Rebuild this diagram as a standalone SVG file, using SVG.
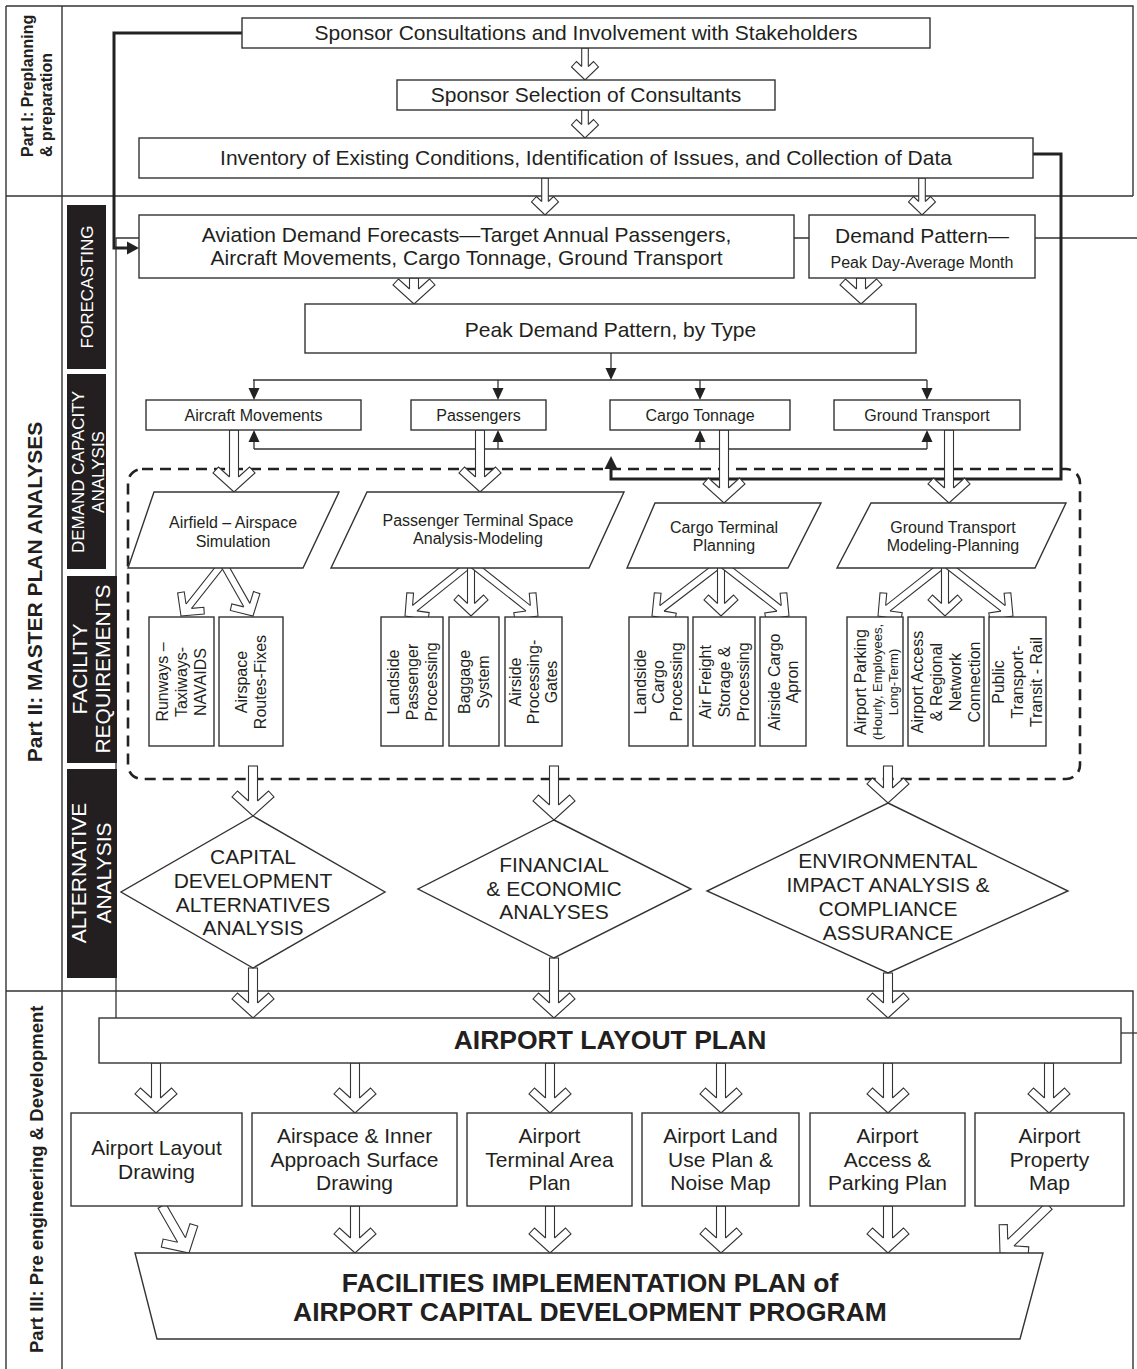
<svg xmlns="http://www.w3.org/2000/svg" width="1137" height="1369" viewBox="0 0 1137 1369">
<defs>
<style>
text{font-family:"Liberation Sans",Arial,Helvetica,sans-serif;fill:#231f20}
.f21{font-size:21px}
.f16{font-size:16px}
.f13{font-size:13px}
.fb{font-size:26.5px;font-weight:bold}
.c{text-anchor:middle}
.b{font-weight:bold}
.box{fill:#fff;stroke:#333;stroke-width:1.4}
.frame{fill:none;stroke:#333;stroke-width:1.4}
.bar{fill:#231f20}
.wt{fill:#fff}
.ln{fill:none;stroke:#333;stroke-width:1.3}
.tk{fill:none;stroke:#222;stroke-width:3}
.dash{fill:none;stroke:#222;stroke-width:2.6;stroke-dasharray:11 7}
.sh{fill:#fff;stroke:#333;stroke-width:1.1}
.hd{fill:#222}
</style>
<path id="hS" class="sh" d="M-3.3,-13.5 L-8.5,-18.5 L-13.5,-13 L0,0 L13.5,-13 L8.5,-18.5 L3.3,-13.5"/>
<path id="hM" class="sh" d="M-3.5,-12.5 L-12.5,-21 L-17,-16 L0,0 L17,-16 L12.5,-21 L3.5,-12.5"/>
<path id="hL" class="sh" d="M-4.5,-15 L-15.5,-25 L-21,-19 L0,0 L21,-19 L15.5,-25 L4.5,-15"/>
</defs>
<rect width="1137" height="1369" fill="#fff"/>

<g id="frame">
<path class="frame" d="M6,6 V1369 M62,6 V1369 M6,6 H1133 V196 M6,196 H1133 M6,991 H1133 V1369"/>
<rect class="dash" x="128" y="469" width="952" height="310" rx="14"/>
</g>

<g id="connectors">
<path class="ln" d="M1137,238 H116 V1018"/>
<path class="ln" d="M1121,1033 H1137"/>
<path class="tk" d="M242,33 H114 V248 H129"/>
<polygon class="hd" points="127,241.5 127,254.5 139,248"/>
<path class="tk" d="M1033,154 H1061 V479 H611 V468"/>
<polygon class="hd" points="604.5,469 617.5,469 611,456"/>
<path class="ln" d="M611,353 V370 M253,380 H927 M254,380 V389 M498,380 V389 M700,380 V389 M927,380 V389 M254,449 H927 M254,449 V441 M498,449 V441 M700,449 V441 M927,449 V441"/>
<polygon class="hd" points="605.5,368 616.5,368 611,380"/>
<polygon class="hd" points="248.5,388 259.5,388 254,400"/>
<polygon class="hd" points="492.5,388 503.5,388 498,400"/>
<polygon class="hd" points="694.5,388 705.5,388 700,400"/>
<polygon class="hd" points="921.5,388 932.5,388 927,400"/>
<polygon class="hd" points="248.5,442 259.5,442 254,430"/>
<polygon class="hd" points="492.5,442 503.5,442 498,430"/>
<polygon class="hd" points="694.5,442 705.5,442 700,430"/>
<polygon class="hd" points="921.5,442 932.5,442 927,430"/>

<g transform="translate(585,80)"><rect class="sh" x="-3.3" y="-32" width="6.6" height="20.5"/><use href="#hS"/></g>
<g transform="translate(585,138)"><rect class="sh" x="-3.3" y="-28" width="6.6" height="16.5"/><use href="#hS"/></g>
<g transform="translate(545,215)"><rect class="sh" x="-3.3" y="-37" width="6.6" height="25.5"/><use href="#hS"/></g>
<g transform="translate(922,215)"><rect class="sh" x="-3.3" y="-37" width="6.6" height="25.5"/><use href="#hS"/></g>
<g transform="translate(414,304)"><rect class="sh" x="-4.5" y="-26" width="9" height="13"/><use href="#hL"/></g>
<g transform="translate(861,304)"><rect class="sh" x="-4.5" y="-26" width="9" height="13"/><use href="#hL"/></g>
<g transform="translate(234,492)"><rect class="sh" x="-4.5" y="-62" width="9" height="49"/><use href="#hL"/></g>
<g transform="translate(480,492)"><rect class="sh" x="-4.5" y="-62" width="9" height="49"/><use href="#hL"/></g>
<g transform="translate(724,503)"><rect class="sh" x="-4.5" y="-73" width="9" height="60"/><use href="#hL"/></g>
<g transform="translate(949,503)"><rect class="sh" x="-4.5" y="-73" width="9" height="60"/><use href="#hL"/></g>

<g transform="translate(181,616) rotate(38.4)"><rect class="sh" x="-3.5" y="-67.6" width="7" height="57.1"/><use href="#hM"/></g>
<g transform="translate(253,616) rotate(-29.5)"><rect class="sh" x="-3.5" y="-60.9" width="7" height="50.4"/><use href="#hM"/></g>
<g transform="translate(405,616) rotate(51.2)"><rect class="sh" x="-3.5" y="-84.6" width="7" height="74.1"/><use href="#hM"/></g>
<g transform="translate(471,616)"><rect class="sh" x="-3.5" y="-53" width="7" height="42.5"/><use href="#hM"/></g>
<g transform="translate(538,616) rotate(-51.7)"><rect class="sh" x="-3.5" y="-85.4" width="7" height="74.9"/><use href="#hM"/></g>
<g transform="translate(652,616) rotate(52.5)"><rect class="sh" x="-3.5" y="-87" width="7" height="76.5"/><use href="#hM"/></g>
<g transform="translate(721,616)"><rect class="sh" x="-3.5" y="-53" width="7" height="42.5"/><use href="#hM"/></g>
<g transform="translate(789,616) rotate(-52.1)"><rect class="sh" x="-3.5" y="-86.2" width="7" height="75.7"/><use href="#hM"/></g>
<g transform="translate(878,616) rotate(51.7)"><rect class="sh" x="-3.5" y="-85.4" width="7" height="74.9"/><use href="#hM"/></g>
<g transform="translate(945,616)"><rect class="sh" x="-3.5" y="-53" width="7" height="42.5"/><use href="#hM"/></g>
<g transform="translate(1013,616) rotate(-52.1)"><rect class="sh" x="-3.5" y="-86.2" width="7" height="75.7"/><use href="#hM"/></g>

<g transform="translate(253,816)"><rect class="sh" x="-4.5" y="-50" width="9" height="37"/><use href="#hL"/></g>
<g transform="translate(554,820)"><rect class="sh" x="-4.5" y="-54" width="9" height="41"/><use href="#hL"/></g>
<g transform="translate(888,803)"><rect class="sh" x="-4.5" y="-37" width="9" height="24"/><use href="#hL"/></g>
<g transform="translate(253,1018)"><rect class="sh" x="-4.5" y="-50" width="9" height="37"/><use href="#hL"/></g>
<g transform="translate(554,1018)"><rect class="sh" x="-4.5" y="-60" width="9" height="47"/><use href="#hL"/></g>
<g transform="translate(888,1018)"><rect class="sh" x="-4.5" y="-45" width="9" height="32"/><use href="#hL"/></g>

<g transform="translate(156,1113)"><rect class="sh" x="-4.5" y="-50" width="9" height="37"/><use href="#hL"/></g>
<g transform="translate(355,1113)"><rect class="sh" x="-4.5" y="-50" width="9" height="37"/><use href="#hL"/></g>
<g transform="translate(550,1113)"><rect class="sh" x="-4.5" y="-50" width="9" height="37"/><use href="#hL"/></g>
<g transform="translate(721,1113)"><rect class="sh" x="-4.5" y="-50" width="9" height="37"/><use href="#hL"/></g>
<g transform="translate(888,1113)"><rect class="sh" x="-4.5" y="-50" width="9" height="37"/><use href="#hL"/></g>
<g transform="translate(1049,1113)"><rect class="sh" x="-4.5" y="-50" width="9" height="37"/><use href="#hL"/></g>

<g transform="translate(189,1253) rotate(-29.9)"><rect class="sh" x="-4.5" y="-54.2" width="9" height="41.2"/><use href="#hL"/></g>
<g transform="translate(355,1253)"><rect class="sh" x="-4.5" y="-47" width="9" height="34"/><use href="#hL"/></g>
<g transform="translate(550,1253)"><rect class="sh" x="-4.5" y="-47" width="9" height="34"/><use href="#hL"/></g>
<g transform="translate(721,1253)"><rect class="sh" x="-4.5" y="-47" width="9" height="34"/><use href="#hL"/></g>
<g transform="translate(888,1253)"><rect class="sh" x="-4.5" y="-47" width="9" height="34"/><use href="#hL"/></g>
<g transform="translate(1000,1253) rotate(46.2)"><rect class="sh" x="-4.5" y="-67.9" width="9" height="54.9"/><use href="#hL"/></g>
</g>

<g id="part-labels">
<text class="b" font-size="16" transform="translate(32.6,157) rotate(-90)"><tspan x="0" y="0">Part I: Preplanning</tspan><tspan x="0" y="19">&amp; preparation</tspan></text>
<text class="b c" font-size="21" transform="translate(42.4,592) rotate(-90)">Part II: MASTER PLAN ANALYSES</text>
<text class="b" font-size="18.5" transform="translate(42.5,1353) rotate(-90)">Part III: Pre engineering &amp; Development</text>
</g>

<g id="section-forecasting">
<rect class="bar" x="67" y="205" width="39" height="164"/>
<text class="wt c" font-size="17" transform="translate(92.5,287) rotate(-90)">FORECASTING</text>
</g>
<g id="section-demand-capacity">
<rect class="bar" x="67" y="374" width="39" height="195"/>
<text class="wt c" font-size="17" transform="translate(84,472) rotate(-90)"><tspan x="0" y="0">DEMAND CAPACITY</tspan><tspan x="0" y="19.5">ANALYSIS</tspan></text>
</g>
<g id="section-facility">
<rect class="bar" x="67" y="576" width="50" height="187"/>
<text class="wt c" font-size="21" transform="translate(87.4,669) rotate(-90)"><tspan x="0" y="0">FACILITY</tspan><tspan x="0" y="23">REQUIREMENTS</tspan></text>
</g>
<g id="section-alternative">
<rect class="bar" x="67" y="769" width="50" height="209"/>
<text class="wt c" font-size="21" transform="translate(86.4,873) rotate(-90)"><tspan x="0" y="0">ALTERNATIVE</tspan><tspan x="0" y="25">ANALYSIS</tspan></text>
</g>

<g id="n-sponsor-consult"><rect class="box" x="242" y="18" width="688" height="30"/><text class="f21 c" x="586" y="40.4">Sponsor Consultations and Involvement with Stakeholders</text></g>
<g id="n-sponsor-select"><rect class="box" x="397" y="80" width="378" height="30"/><text class="f21 c" x="586" y="102.4">Sponsor Selection of Consultants</text></g>
<g id="n-inventory"><rect class="box" x="139" y="138" width="894" height="40"/><text class="f21 c" x="586" y="165.4">Inventory of Existing Conditions, Identification of Issues, and Collection of Data</text></g>
<g id="n-forecasts"><rect class="box" x="139" y="215" width="655" height="63"/><text class="f21 c" x="466.5" y="242.4">Aviation Demand Forecasts—Target Annual Passengers,</text><text class="f21 c" x="466.5" y="265.4">Aircraft Movements, Cargo Tonnage, Ground Transport</text></g>
<g id="n-demand-pattern"><rect class="box" x="809" y="215" width="226" height="63"/><text class="f21 c" x="922" y="243.4">Demand Pattern—</text><text class="f16 c" x="922" y="267.6">Peak Day-Average Month</text></g>
<g id="n-peak"><rect class="box" x="305" y="304" width="611" height="49"/><text class="f21 c" x="610.5" y="337">Peak Demand Pattern, by Type</text></g>

<g id="n-aircraft"><rect class="box" x="146" y="400" width="215" height="30"/><text class="f16 c" x="253.5" y="420.6">Aircraft Movements</text></g>
<g id="n-passengers"><rect class="box" x="411" y="400" width="135" height="30"/><text class="f16 c" x="478.5" y="420.6">Passengers</text></g>
<g id="n-cargo"><rect class="box" x="610" y="400" width="180" height="30"/><text class="f16 c" x="700" y="420.6">Cargo Tonnage</text></g>
<g id="n-ground"><rect class="box" x="834" y="400" width="186" height="30"/><text class="f16 c" x="927" y="420.6">Ground Transport</text></g>

<g id="n-airfield-sim"><polygon class="box" points="154,492 339,492 303,568 128,568"/><text class="f16 c" x="233" y="527.6">Airfield – Airspace</text><text class="f16 c" x="233" y="546.6">Simulation</text></g>
<g id="n-pax-terminal"><polygon class="box" points="367,492 624,492 589,568 331,568"/><text class="f16 c" x="478" y="525.6">Passenger Terminal Space</text><text class="f16 c" x="478" y="543.6">Analysis-Modeling</text></g>
<g id="n-cargo-terminal"><polygon class="box" points="655,503 821,503 788,568 627,568"/><text class="f16 c" x="724" y="532.6">Cargo Terminal</text><text class="f16 c" x="724" y="550.6">Planning</text></g>
<g id="n-ground-model"><polygon class="box" points="871,503 1066,503 1035,568 837,568"/><text class="f16 c" x="953" y="532.6">Ground Transport</text><text class="f16 c" x="953" y="550.6">Modeling-Planning</text></g>

<g id="n-runways"><rect class="box" x="149" y="617" width="65" height="129"/><text class="f16 c" transform="translate(168.1,682) rotate(-90)"><tspan x="0" y="0">Runways –</tspan><tspan x="0" y="19">Taxiways-</tspan><tspan x="0" y="38">NAVAIDS</tspan></text></g>
<g id="n-airspace-routes"><rect class="box" x="219" y="617" width="64" height="129"/><text class="f16 c" transform="translate(247.1,682) rotate(-90)"><tspan x="0" y="0">Airspace</tspan><tspan x="0" y="19">Routes-Fixes</tspan></text></g>
<g id="n-landside-pax"><rect class="box" x="381" y="617" width="62" height="129"/><text class="f16 c" transform="translate(398.6,682) rotate(-90)"><tspan x="0" y="0">Landside</tspan><tspan x="0" y="19">Passenger</tspan><tspan x="0" y="38">Processing</tspan></text></g>
<g id="n-baggage"><rect class="box" x="449" y="617" width="50" height="129"/><text class="f16 c" transform="translate(470.1,682) rotate(-90)"><tspan x="0" y="0">Baggage</tspan><tspan x="0" y="19">System</tspan></text></g>
<g id="n-airside-gates"><rect class="box" x="505" y="617" width="57" height="129"/><text class="f16 c" transform="translate(521.1,682) rotate(-90)"><tspan x="0" y="0">Airside</tspan><tspan x="0" y="18">Processing-</tspan><tspan x="0" y="36">Gates</tspan></text></g>
<g id="n-landside-cargo"><rect class="box" x="629" y="617" width="59" height="129"/><text class="f16 c" transform="translate(646.1,682) rotate(-90)"><tspan x="0" y="0">Landside</tspan><tspan x="0" y="18">Cargo</tspan><tspan x="0" y="36">Processing</tspan></text></g>
<g id="n-air-freight"><rect class="box" x="693" y="617" width="62" height="129"/><text class="f16 c" transform="translate(710.6,682) rotate(-90)"><tspan x="0" y="0">Air Freight</tspan><tspan x="0" y="19">Storage &amp;</tspan><tspan x="0" y="38">Processing</tspan></text></g>
<g id="n-airside-cargo"><rect class="box" x="760" y="617" width="46" height="129"/><text class="f16 c" transform="translate(779.6,682) rotate(-90)"><tspan x="0" y="0">Airside Cargo</tspan><tspan x="0" y="18">Apron</tspan></text></g>
<g id="n-parking"><rect class="box" x="847" y="617" width="56" height="129"/><text class="c" transform="translate(865.6,682) rotate(-90)"><tspan class="f16" x="0" y="0">Airport Parking</tspan><tspan class="f13" x="0" y="16">(Hourly, Employees,</tspan><tspan class="f13" x="0" y="32">Long-Term)</tspan></text></g>
<g id="n-access"><rect class="box" x="908" y="617" width="76" height="129"/><text class="f16 c" transform="translate(923.1,682) rotate(-90)"><tspan x="0" y="0">Airport Access</tspan><tspan x="0" y="19">&amp; Regional</tspan><tspan x="0" y="38">Network</tspan><tspan x="0" y="57">Connection</tspan></text></g>
<g id="n-public-transport"><rect class="box" x="989" y="617" width="57" height="129"/><text class="f16 c" transform="translate(1004.1,682) rotate(-90)"><tspan x="0" y="0">Public</tspan><tspan x="0" y="19">Transport-</tspan><tspan x="0" y="38">Transit - Rail</tspan></text></g>

<g id="n-capital"><polygon class="box" points="253,816 385,892 253,968 121,892"/><text class="f21 c" x="253"><tspan x="253" y="864.4">CAPITAL</tspan><tspan x="253" y="887.9">DEVELOPMENT</tspan><tspan x="253" y="911.9">ALTERNATIVES</tspan><tspan x="253" y="935.4">ANALYSIS</tspan></text></g>
<g id="n-financial"><polygon class="box" points="554,820 691,889 554,958 418,889"/><text class="f21 c" x="554"><tspan x="554" y="872.4">FINANCIAL</tspan><tspan x="554" y="895.9">&amp; ECONOMIC</tspan><tspan x="554" y="919.4">ANALYSES</tspan></text></g>
<g id="n-environmental"><polygon class="box" points="888,803 1068,891 888,973 707,891"/><text class="f21 c" x="888"><tspan x="888" y="868.4">ENVIRONMENTAL</tspan><tspan x="888" y="892.4">IMPACT ANALYSIS &amp;</tspan><tspan x="888" y="915.9">COMPLIANCE</tspan><tspan x="888" y="940.4">ASSURANCE</tspan></text></g>

<g id="n-alp"><rect class="box" x="99" y="1018" width="1022" height="45"/><text class="fb c" x="610" y="1049.3">AIRPORT LAYOUT PLAN</text></g>

<g id="n-layout-drawing"><rect class="box" x="71" y="1113" width="171" height="93"/><text class="f21 c"><tspan x="156.5" y="1155.4">Airport Layout</tspan><tspan x="156.5" y="1179.4">Drawing</tspan></text></g>
<g id="n-airspace-drawing"><rect class="box" x="252" y="1113" width="205" height="93"/><text class="f21 c"><tspan x="354.5" y="1143.4">Airspace &amp; Inner</tspan><tspan x="354.5" y="1167.4">Approach Surface</tspan><tspan x="354.5" y="1190.4">Drawing</tspan></text></g>
<g id="n-terminal-plan"><rect class="box" x="467" y="1113" width="165" height="93"/><text class="f21 c"><tspan x="549.5" y="1143.4">Airport</tspan><tspan x="549.5" y="1167.4">Terminal Area</tspan><tspan x="549.5" y="1190.4">Plan</tspan></text></g>
<g id="n-land-use"><rect class="box" x="642" y="1113" width="157" height="93"/><text class="f21 c"><tspan x="720.5" y="1143.4">Airport Land</tspan><tspan x="720.5" y="1167.4">Use Plan &amp;</tspan><tspan x="720.5" y="1190.4">Noise Map</tspan></text></g>
<g id="n-access-parking"><rect class="box" x="810" y="1113" width="155" height="93"/><text class="f21 c"><tspan x="887.5" y="1143.4">Airport</tspan><tspan x="887.5" y="1167.4">Access &amp;</tspan><tspan x="887.5" y="1190.4">Parking Plan</tspan></text></g>
<g id="n-property"><rect class="box" x="975" y="1113" width="149" height="93"/><text class="f21 c"><tspan x="1049.5" y="1143.4">Airport</tspan><tspan x="1049.5" y="1167.4">Property</tspan><tspan x="1049.5" y="1190.4">Map</tspan></text></g>

<g id="n-facilities-plan"><polygon class="box" points="135,1253 1043,1253 1020,1339 157,1339"/><text class="fb c"><tspan x="590" y="1292.3">FACILITIES IMPLEMENTATION PLAN of</tspan><tspan x="590" y="1321.3">AIRPORT CAPITAL DEVELOPMENT PROGRAM</tspan></text></g>
</svg>
